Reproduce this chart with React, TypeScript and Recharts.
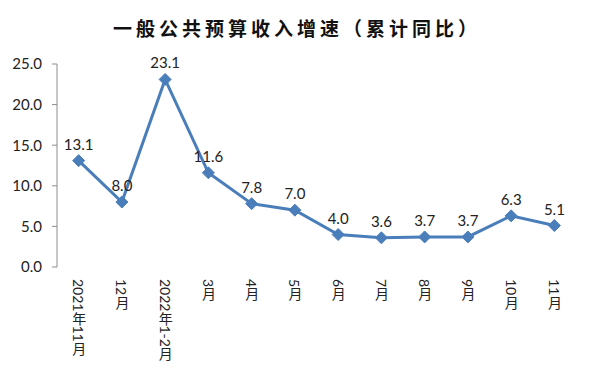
import React from 'react';
import { LineChart, Line, XAxis, YAxis, LabelList } from 'recharts';

const months = ['2021年11月', '12月', '2022年1-2月', '3月', '4月', '5月', '6月', '7月', '8月', '9月', '10月', '11月'];
const growth = [13.1, 8.0, 23.1, 11.6, 7.8, 7.0, 4.0, 3.6, 3.7, 3.7, 6.3, 5.1];
const yTicks = [0, 5, 10, 15, 20, 25];
const boundaryTicks = [0, 1, 2, 3, 4, 5, 6, 7, 8, 9, 10, 11, 12];

// pos = middle of each category slot on the 0..12 axis
const data = months.map((m, i) => ({ month: m, pos: i + 0.5, value: growth[i] }));

const BLUE = '#4a7ebb';
const AXIS = '#8c8c8c';
const FONT = "Lato, 'Noto Sans CJK SC', sans-serif";

const Diamond = (props: any) => {
  const { cx, cy } = props;
  if (cx == null || cy == null) return null;
  const r = 6;
  return (
    <polygon
      points={`${cx},${cy - r} ${cx + r},${cy} ${cx},${cy + r} ${cx - r},${cy}`}
      fill={BLUE}
      stroke={BLUE}
    />
  );
};

const VerticalTick = (props: any) => {
  const { x, y, payload } = props;
  return (
    <text
      x={x}
      y={y + 4}
      fill="#222"
      fontSize={14}
      fontFamily={FONT}
      style={{ writingMode: 'vertical-rl' }}
    >
      {payload.value}
    </text>
  );
};

export default function App() {
  return (
    <div style={{ position: 'absolute', left: 0, top: 0, width: 600, height: 377, background: '#fff' }}>
      <div
        style={{
          position: 'absolute',
          left: 0,
          top: 14,
          width: 594,
          textAlign: 'center',
          fontFamily: "'Noto Sans CJK SC', sans-serif",
          fontWeight: 700,
          fontSize: 19,
          letterSpacing: 4,
          color: '#111',
        }}
      >
        一般公共预算收入增速（累计同比）
      </div>
      <LineChart width={600} height={377} data={data} margin={{ top: 64, right: 24, left: 0, bottom: 0 }}>
        <XAxis
          xAxisId="grid"
          type="number"
          dataKey="pos"
          domain={[0, 12]}
          ticks={boundaryTicks}
          tick={false}
          height={0}
          tickSize={5}
          stroke={AXIS}
          axisLine={{ stroke: AXIS }}
          tickLine={{ stroke: AXIS }}
        />
        <XAxis
          dataKey="month"
          scale="band"
          interval={0}
          height={110}
          axisLine={false}
          tickLine={false}
          tick={<VerticalTick />}
        />
        <YAxis
          width={57}
          domain={[0, 25]}
          ticks={yTicks}
          tickFormatter={(v: number) => v.toFixed(1)}
          tickSize={5}
          tickMargin={10}
          stroke={AXIS}
          tick={{ fill: '#222', fontSize: 15, fontFamily: FONT }}
        />
        <Line
          xAxisId="grid"
          type="linear"
          dataKey="value"
          stroke={BLUE}
          strokeWidth={3}
          dot={<Diamond />}
          activeDot={false}
          isAnimationActive={false}
        >
          <LabelList
            dataKey="value"
            position="top"
            offset={11}
            formatter={(v: any) => Number(v).toFixed(1)}
            style={{ fill: '#222', fontSize: 15, fontFamily: FONT }}
          />
        </Line>
      </LineChart>
    </div>
  );
}
